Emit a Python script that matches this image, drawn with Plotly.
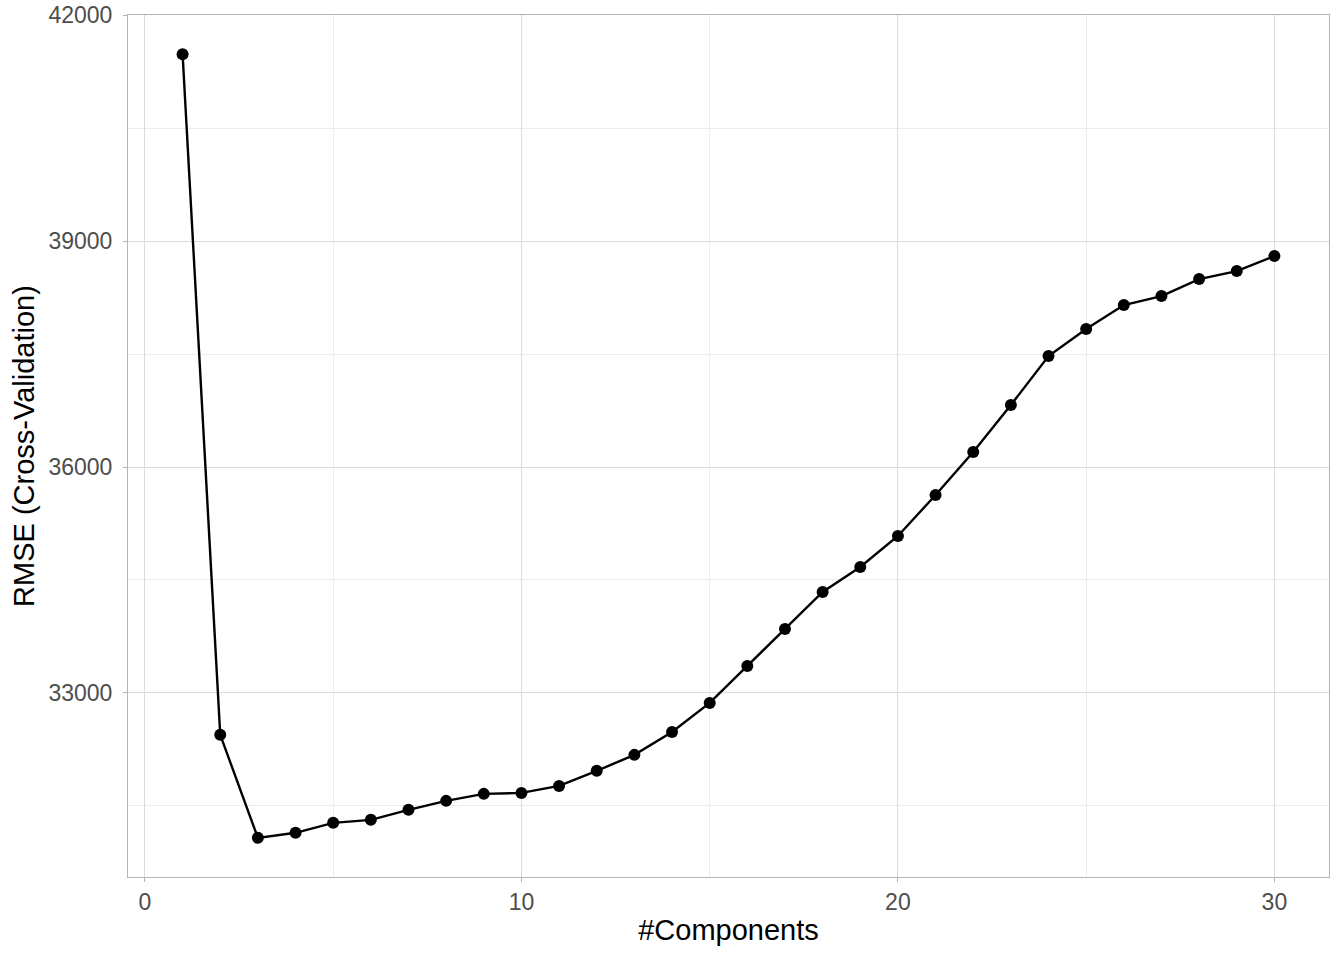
import plotly.graph_objects as go

components = list(range(1, 31))
rmse = [41483, 32443, 31075, 31142, 31274, 31314, 31447, 31566, 31659, 31672,
        31765, 31965, 32177, 32482, 32867, 33358, 33850, 34341, 34673, 35084,
        35628, 36199, 36823, 37474, 37832, 38151, 38270, 38496, 38602, 38801]

x_ticks = [0, 10, 20, 30]
y_ticks = [33000, 36000, 39000, 42000]
y_tick_labels = ["33000", "36000", "39000", "42000"]

fig = go.Figure()
fig.add_trace(go.Scatter(
    x=components, y=rmse, mode="lines+markers",
    line=dict(color="black", width=2.4),
    marker=dict(color="black", size=12),
    showlegend=False,
))

font = "Liberation Sans, Arial, sans-serif"
axis_common = dict(
    showline=True, linecolor="#B3B3B3", linewidth=1, mirror=True,
    ticks="outside", ticklen=4, tickcolor="#B3B3B3",
    gridcolor="#DCDCDC", gridwidth=1, zeroline=False,
    tickfont=dict(family=font, size=23, color="#4D4D4D"),
    automargin=False, ticklabeloverflow="allow",
)
fig.update_xaxes(
    range=[-0.45, 31.45], tickvals=x_ticks, ticklabelstandoff=0,
    minor=dict(tickvals=[5, 15, 25], showgrid=True, gridcolor="#EDEDED", ticks=""),
    title=dict(text="#Components", font=dict(family=font, size=29, color="black"), standoff=6),
    **axis_common,
)
fig.update_yaxes(
    range=[30555, 42003], tickvals=y_ticks, ticktext=y_tick_labels, ticklabelstandoff=6,
    minor=dict(tickvals=[31500, 34500, 37500, 40500], showgrid=True, gridcolor="#EDEDED", ticks=""),
    title=dict(text="RMSE (Cross-Validation)", font=dict(family=font, size=29, color="black"), standoff=5),
    **axis_common,
)
fig.update_layout(
    width=1344, height=960,
    margin=dict(l=128, r=15, t=15, b=83),
    plot_bgcolor="white", paper_bgcolor="white",
    font=dict(family=font),
)
fig.write_html("out.html", config={"displayModeBar": False},
               post_script="document.body.style.margin='0';")
